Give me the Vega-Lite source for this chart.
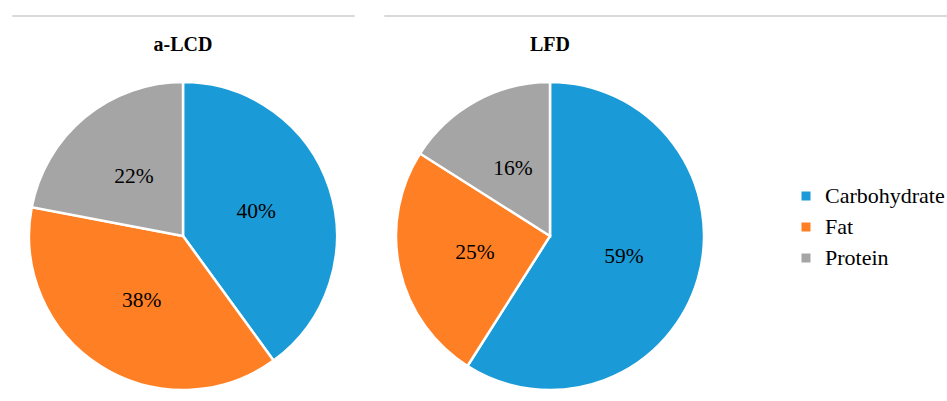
{
  "$schema": "https://vega.github.io/schema/vega-lite/v6.json",
  "padding": {"left": 11, "top": 14, "right": 0, "bottom": 0},
  "autosize": {"type": "pad"},
  "background": "white",
  "spacing": 18,
  "vconcat": [
    {
      "spacing": 28,
      "hconcat": [
        {
          "width": 342,
          "height": 1,
          "data": {"values": []},
          "mark": "point",
          "view": {"stroke": "#D9D9D9", "strokeWidth": 1}
        },
        {
          "width": 564,
          "height": 1,
          "data": {"values": []},
          "mark": "point",
          "view": {"stroke": "#D9D9D9", "strokeWidth": 1}
        }
      ]
    },
    {
      "data": {
        "values": [
          {"diet": "a-LCD", "nutrient": "Carbohydrate", "share": 0.40},
          {"diet": "a-LCD", "nutrient": "Fat", "share": 0.38},
          {"diet": "a-LCD", "nutrient": "Protein", "share": 0.22},
          {"diet": "LFD", "nutrient": "Carbohydrate", "share": 0.59},
          {"diet": "LFD", "nutrient": "Fat", "share": 0.25},
          {"diet": "LFD", "nutrient": "Protein", "share": 0.16}
        ]
      },
      "facet": {
        "column": {
          "field": "diet",
          "type": "nominal",
          "sort": ["a-LCD", "LFD"],
          "title": null,
          "header": {
            "labelFont": "Liberation Serif",
            "labelFontSize": 20,
            "labelFontWeight": "bold",
            "labelColor": "#000000",
            "labelPadding": 15
          }
        }
      },
      "spacing": 25,
      "spec": {
        "width": 342,
        "height": 332,
        "layer": [
          {
            "mark": {"type": "arc", "outerRadius": 154, "stroke": "#ffffff", "strokeWidth": 2.5},
            "encoding": {
              "theta": {"field": "share", "type": "quantitative", "stack": true},
              "order": {"field": "nutrient", "type": "nominal", "sort": "ascending"},
              "color": {
                "field": "nutrient",
                "type": "nominal",
                "scale": {
                  "domain": ["Carbohydrate", "Fat", "Protein"],
                  "range": ["#1A9AD6", "#FF7F24", "#A5A5A5"]
                },
                "legend": {
                  "title": null,
                  "orient": "none",
                  "legendX": 783,
                  "legendY": 170,
                  "symbolType": "square",
                  "symbolSize": 81,
                  "symbolStrokeWidth": 0,
                  "labelFont": "Liberation Serif",
                  "labelFontSize": 22,
                  "labelColor": "#000000",
                  "labelOffset": 8,
                  "rowPadding": 9
                }
              }
            }
          },
          {
            "mark": {"type": "text", "radius": 77, "font": "Liberation Serif", "fontSize": 21.5},
            "encoding": {
              "theta": {"field": "share", "type": "quantitative", "stack": true},
              "order": {"field": "nutrient", "type": "nominal", "sort": "ascending"},
              "detail": {"field": "nutrient", "type": "nominal"},
              "text": {"field": "share", "type": "quantitative", "format": ".0%"},
              "color": {"value": "#000000"}
            }
          }
        ]
      }
    }
  ],
  "config": {
    "font": "Liberation Serif",
    "view": {"stroke": null},
    "legend": {"labelFont": "Liberation Serif", "labelFontSize": 22, "labelColor": "#000000"}
  }
}
